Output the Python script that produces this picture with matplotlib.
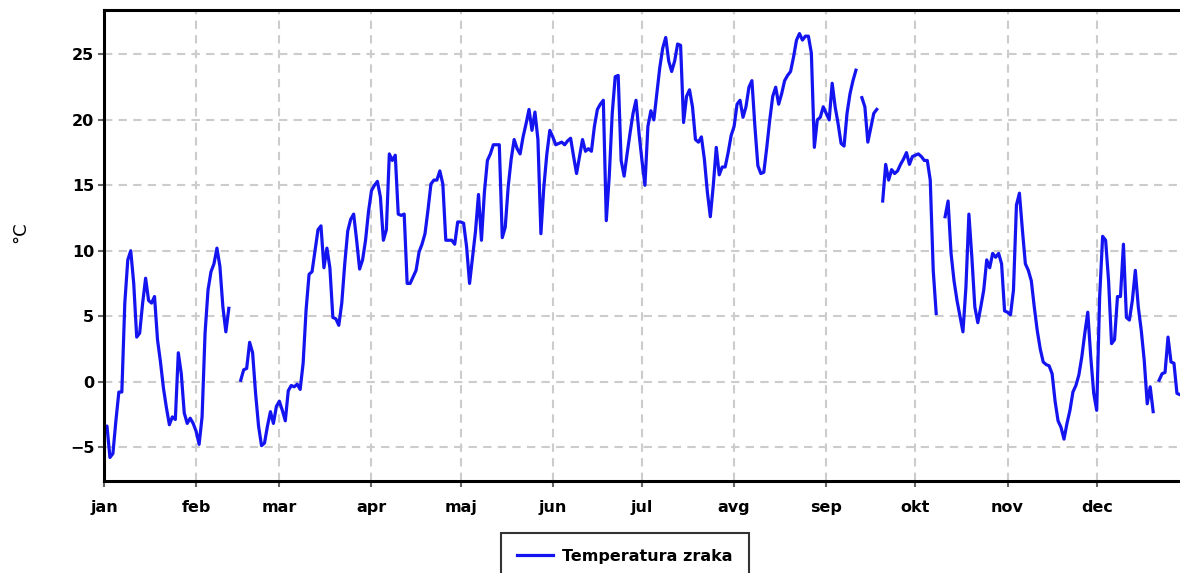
import numpy as np
import matplotlib
matplotlib.use('Agg')
import matplotlib.pyplot as plt

nan = np.nan

# daily air temperature, day of year 0 = 1 Jan (nan = missing)
temp_jan = [-3.8, -3.4, -5.8, -5.5, -3.0, -0.8, -0.8, 6.0, 9.3, 10.0,
            7.5, 3.4, 3.7, 6.0, 7.9, 6.2, 6.0, 6.5, 3.2, 1.5,
            -0.5, -2.0, -3.3, -2.7, -2.9, 2.2, 0.6, -2.4, -3.2, -2.8,
            -3.2]
temp_feb = [-3.8, -4.8, -2.7, 3.7, 7.0, 8.4, 9.0, 10.2, 8.8, 5.7,
            3.8, 5.6, nan, nan, nan, 0.1, 0.9, 1.0, 3.0, 2.2,
            -0.9, -3.4, -4.9, -4.7, -3.4, -2.3, -3.2, -1.9]
temp_mar = [-1.5, -2.2, -3.0, -0.7, -0.3, -0.4, -0.2, -0.6, 1.4, 5.5,
            8.2, 8.4, 10.0, 11.6, 11.9, 8.7, 10.2, 8.7, 4.9, 4.8,
            4.3, 6.0, 9.0, 11.5, 12.4, 12.8, 10.8, 8.6, 9.3, 10.8,
            13.0]
temp_apr = [14.6, 15.0, 15.3, 14.1, 10.8, 11.6, 17.4, 16.9, 17.3, 12.8,
            12.7, 12.8, 7.5, 7.5, 8.0, 8.5, 9.9, 10.5, 11.3, 13.1,
            15.1, 15.4, 15.4, 16.1, 15.1, 10.8, 10.8, 10.8, 10.5, 12.2]
temp_maj = [12.2, 12.1, 10.3, 7.5, 9.5, 11.5, 14.3, 10.8, 14.5, 16.9,
            17.4, 18.1, 18.1, 18.1, 11.0, 11.8, 14.9, 17.0, 18.5, 17.8,
            17.4, 18.7, 19.7, 20.8, 19.2, 20.6, 18.5, 11.3, 14.9, 17.4,
            19.2]
temp_jun = [18.7, 18.1, 18.2, 18.3, 18.1, 18.4, 18.6, 17.2, 15.9, 17.2,
            18.5, 17.6, 17.8, 17.6, 19.5, 20.8, 21.2, 21.5, 12.3, 15.7,
            20.5, 23.3, 23.4, 16.9, 15.7, 17.4, 19.0, 20.5, 21.5, 19.0]
temp_jul = [16.9, 15.0, 19.5, 20.7, 20.0, 22.0, 24.0, 25.5, 26.3, 24.5,
            23.7, 24.5, 25.8, 25.7, 19.8, 21.8, 22.3, 21.0, 18.5, 18.3,
            18.7, 17.0, 14.5, 12.6, 15.0, 17.9, 15.8, 16.4, 16.4, 17.5,
            18.8]
temp_avg = [19.5, 21.2, 21.5, 20.2, 21.0, 22.5, 23.0, 19.5, 16.5, 15.9,
            16.0, 17.9, 20.0, 21.8, 22.5, 21.2, 22.0, 23.0, 23.4, 23.7,
            24.8, 26.1, 26.6, 26.1, 26.4, 26.4, 25.1, 17.9, 20.0, 20.2,
            21.0]
temp_sep = [20.5, 20.0, 22.8, 21.0, 19.7, 18.2, 18.0, 20.5, 22.0, 23.0,
            23.8, nan, 21.7, 21.0, 18.3, 19.4, 20.5, 20.8, nan, 13.8,
            16.6, 15.4, 16.2, 15.9, 16.1, 16.6, 17.0, 17.5, 16.6, 17.2]
temp_okt = [17.3, 17.4, 17.2, 16.9, 16.9, 15.4, 8.5, 5.2, nan, nan,
            12.6, 13.8, 9.8, 7.7, 6.2, 5.0, 3.8, 7.2, 12.8, 9.5,
            5.7, 4.5, 5.7, 7.0, 9.3, 8.7, 9.8, 9.5, 9.8, 9.0,
            5.4]
temp_nov = [5.3, 5.1, 7.0, 13.5, 14.4, 11.6, 9.0, 8.5, 7.7, 5.7,
            3.9, 2.5, 1.5, 1.3, 1.2, 0.6, -1.5, -3.0, -3.5, -4.4,
            -3.2, -2.2, -0.8, -0.3, 0.5, 1.9, 3.7, 5.3, 1.9, -0.9]
temp_dec = [-2.2, 6.5, 11.1, 10.8, 7.7, 2.9, 3.2, 6.5, 6.5, 10.5,
            4.9, 4.7, 6.2, 8.5, 5.7, 3.9, 1.6, -1.7, -0.4, -2.3,
            nan, 0.1, 0.6, 0.7, 3.4, 1.5, 1.4, -0.9, -1.0]

month_names = ['jan', 'feb', 'mar', 'apr', 'maj', 'jun',
               'jul', 'avg', 'sep', 'okt', 'nov', 'dec']
month_starts = [0, 31, 59, 90, 120, 151, 181, 212, 243, 273, 304, 334]

temp = np.array(temp_jan + temp_feb + temp_mar + temp_apr + temp_maj + temp_jun
                + temp_jul + temp_avg + temp_sep + temp_okt + temp_nov + temp_dec)
days = np.arange(len(temp))

fig = plt.figure(figsize=(11.8, 5.73), dpi=100)
ax = fig.add_axes([104 / 1180, 1 - 481 / 573, 1 - 104 / 1180 + 0.01, 471 / 573])

ax.plot(days, temp, color='#1414f0', lw=2.3, label='Temperatura zraka')

ax.set_xlim(0, 366)
ax.set_ylim(-7.6, 28.4)
ax.set_xticks(month_starts)
ax.set_xticklabels(month_names)
ax.set_yticks([-5, 0, 5, 10, 15, 20, 25])

ax.grid(True, color='#cccccc', linestyle=(0, (4, 3)), linewidth=1.5)
ax.set_axisbelow(True)

for side in ['left', 'bottom', 'top']:
    ax.spines[side].set_linewidth(2.2)
    ax.spines[side].set_color('black')
ax.spines['right'].set_visible(False)

ax.tick_params(axis='both', length=4, width=1.5, color='#666666')
ax.tick_params(axis='x', pad=10)
ax.tick_params(axis='y', pad=3)
for lab in ax.get_xticklabels() + ax.get_yticklabels():
    lab.set_fontweight('bold')
    lab.set_fontsize(11.5)

fig.text(20 / 1180, 1 - 232 / 573, '°C', rotation=90, ha='center', va='center',
         fontsize=13)

leg = fig.legend(loc='upper center', bbox_to_anchor=(625 / 1180, 1 - 533 / 573),
                 frameon=True, fancybox=False, borderpad=1.0, borderaxespad=0,
                 handlelength=2.2, handletextpad=0.6,
                 prop={'weight': 'bold', 'size': 11.5})
leg.get_frame().set_edgecolor('black')
leg.get_frame().set_linewidth(1.5)

fig.savefig('out.png', dpi=100)
